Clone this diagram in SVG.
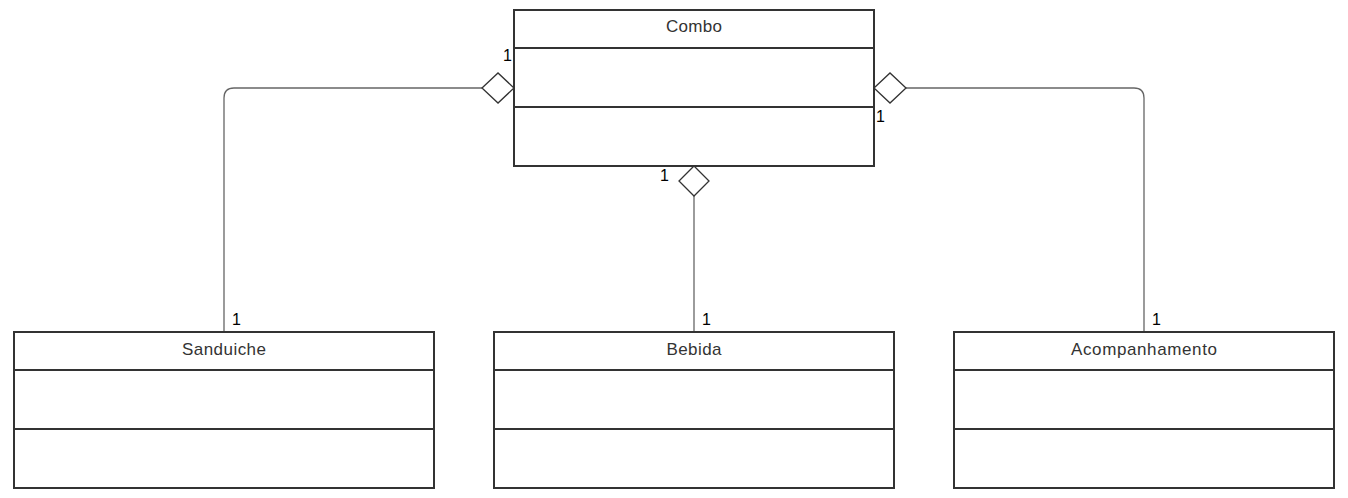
<svg xmlns="http://www.w3.org/2000/svg" width="1348" height="498" viewBox="0 0 1348 498">
<style>
.box{fill:#fff;stroke:#333;stroke-width:2}
.div{stroke:#333;stroke-width:2}
.name{font-family:"Liberation Sans",Arial,sans-serif;font-size:17px;fill:#333;text-anchor:middle}
.mult{font-family:"Liberation Sans",Arial,sans-serif;font-size:16px;fill:#000}
.conn{fill:none;stroke:#666;stroke-width:1.3}
.dia{fill:#fff;stroke:#333;stroke-width:1.3}
</style>
<rect width="1348" height="498" fill="#fff"/>
<g id="connectors">
<path class="conn" d="M482,88 H234 Q224,88 224,98 V332"/>
<path class="conn" d="M905,88 H1134 Q1144,88 1144,98 V332"/>
<path class="conn" d="M694,196 V332"/>
<polygon class="dia" points="482,88 498,73 514,88 498,103"/>
<polygon class="dia" points="874,88 890,73 906,88 890,103"/>
<polygon class="dia" points="694,166 709,181 694,196 679,181"/>
<text class="mult" x="503" y="61">1</text>
<text class="mult" x="876" y="122">1</text>
<text class="mult" x="660" y="181">1</text>
<text class="mult" x="232" y="325">1</text>
<text class="mult" x="702" y="325">1</text>
<text class="mult" x="1152" y="325">1</text>
</g>
<g id="combo">
<rect class="box" x="514" y="10" width="360" height="156"/>
<line class="div" x1="514" y1="48" x2="874" y2="48"/>
<line class="div" x1="514" y1="107" x2="874" y2="107"/>
<text class="name" x="694" y="32" textLength="56" lengthAdjust="spacing">Combo</text>
</g>
<g id="sanduiche">
<rect class="box" x="14" y="332" width="420" height="156"/>
<line class="div" x1="14" y1="370" x2="434" y2="370"/>
<line class="div" x1="14" y1="429" x2="434" y2="429"/>
<text class="name" x="224" y="355" textLength="84" lengthAdjust="spacing">Sanduiche</text>
</g>
<g id="bebida">
<rect class="box" x="494" y="332" width="400" height="156"/>
<line class="div" x1="494" y1="370" x2="894" y2="370"/>
<line class="div" x1="494" y1="429" x2="894" y2="429"/>
<text class="name" x="694" y="355" textLength="55" lengthAdjust="spacing">Bebida</text>
</g>
<g id="acompanhamento">
<rect class="box" x="954" y="332" width="380" height="156"/>
<line class="div" x1="954" y1="370" x2="1334" y2="370"/>
<line class="div" x1="954" y1="429" x2="1334" y2="429"/>
<text class="name" x="1144" y="355" textLength="146" lengthAdjust="spacing">Acompanhamento</text>
</g>
</svg>
